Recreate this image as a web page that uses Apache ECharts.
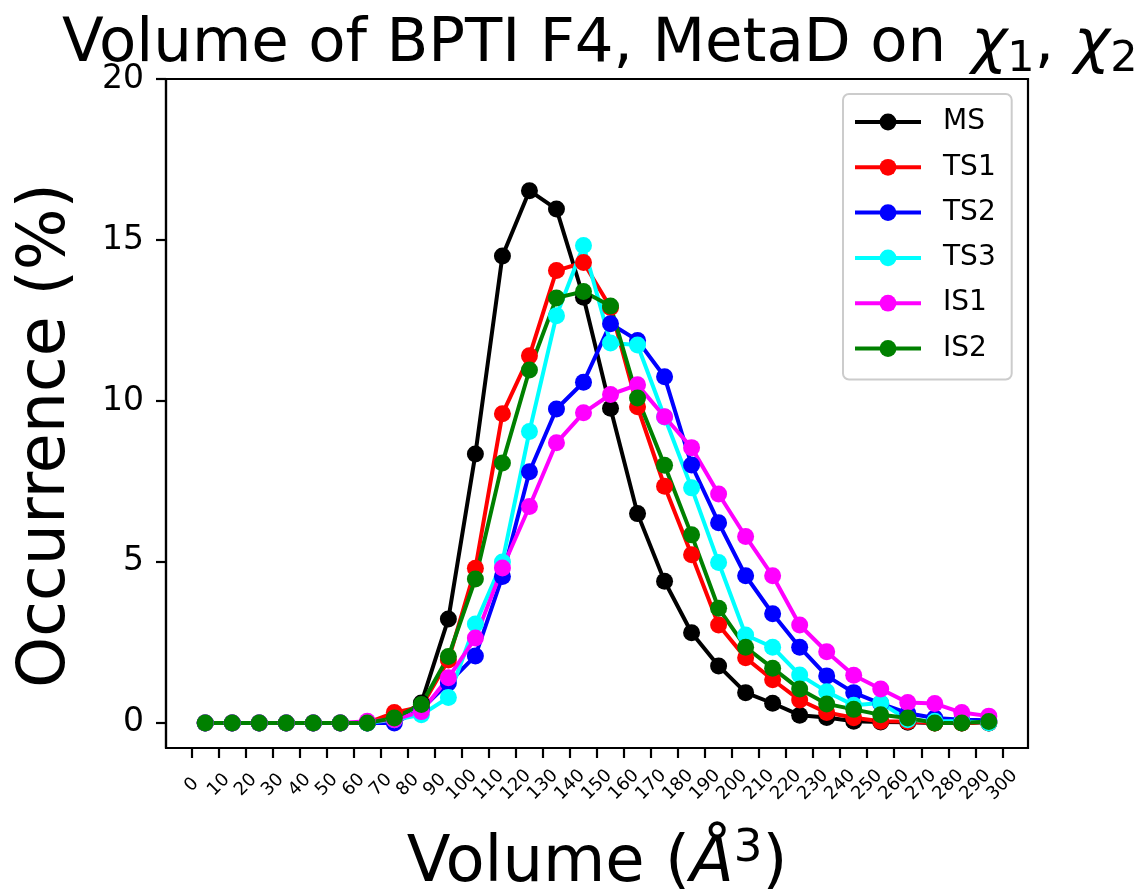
<!DOCTYPE html>
<html><head><meta charset="utf-8">
<script src="https://cdn.jsdelivr.net/npm/echarts@6/dist/echarts.min.js"></script>
<style>html,body{margin:0;padding:0;background:#fff}#c{width:1142px;height:890px}</style>
</head><body><div id="c"></div>
<script>
// Bin centres (Å^3)
const bins = [5,15,25,35,45,55,65,75,85,95,105,115,125,135,145,155,165,175,185,195,205,215,225,235,245,255,265,275,285,295];
const xTicks = [0,10,20,30,40,50,60,70,80,90,100,110,120,130,140,150,160,170,180,190,200,210,220,230,240,250,260,270,280,290,300];
const yTicks = [0,5,10,15,20];
const MS  = [0,0,0,0,0,0,0,0.1,0.62,3.23,8.35,14.5,16.53,15.96,13.22,9.77,6.5,4.4,2.8,1.77,0.94,0.61,0.24,0.17,0.05,0.03,0.02,0,0,0];
const TS1 = [0,0,0,0,0,0,0,0.32,0.5,1.95,4.8,9.6,11.4,14.05,14.3,12.9,9.82,7.35,5.22,3.04,2.02,1.34,0.71,0.32,0.16,0.05,0.04,0,0,0];
const TS2 = [0,0,0,0,0,0,0,0,0.42,1.24,2.08,4.55,7.8,9.75,10.58,12.4,11.88,10.75,8.01,6.22,4.57,3.39,2.35,1.46,0.94,0.6,0.3,0.15,0.1,0.08];
const TS3 = [0,0,0,0,0,0,0,0.1,0.25,0.79,3.07,5.0,9.05,12.65,14.83,11.8,11.74,9.5,7.3,4.98,2.73,2.35,1.49,0.97,0.55,0.62,0.1,0.05,0.05,0];
const IS1 = [0,0,0,0,0,0,0.05,0.1,0.35,1.4,2.64,4.81,6.72,8.7,9.63,10.2,10.5,9.51,8.55,7.11,5.79,4.57,3.04,2.21,1.48,1.05,0.63,0.6,0.32,0.21];
const IS2 = [0,0,0,0,0,0,0,0.15,0.57,2.06,4.47,8.07,10.96,13.2,13.4,12.95,10.09,8.0,5.84,3.56,2.35,1.7,1.05,0.59,0.42,0.25,0.15,0,0,0.04];

const seriesDefs = [
  ['MS', MS, '#000000'],
  ['TS1', TS1, '#ff0000'],
  ['TS2', TS2, '#0000ff'],
  ['TS3', TS3, '#00ffff'],
  ['IS1', IS1, '#ff00ff'],
  ['IS2', IS2, '#008000']
];
const FONT = 'DejaVu Sans';

const chart = echarts.init(document.getElementById('c'), null, {renderer: 'canvas'});
chart.setOption({
  animation: false,
  backgroundColor: '#ffffff',
  textStyle: {fontFamily: FONT},
  title: {
    text: '{a|Volume of BPTI F4, MetaD on}{i|χ}{s|1}{c|,}{j|χ}{s|2}',
    left: 57, top: 4,
    textStyle: {
      fontWeight: 'normal',
      rich: {
        a: {fontSize: 61, fontFamily: FONT, fontWeight: 'normal', color: '#000', lineHeight: 72},
        i: {fontSize: 61, fontFamily: FONT, fontWeight: 'normal', fontStyle: 'italic', color: '#000', lineHeight: 72, padding: [0, 0, 0, 25]},
        j: {fontSize: 61, fontFamily: FONT, fontWeight: 'normal', fontStyle: 'italic', color: '#000', lineHeight: 72},
        c: {fontSize: 61, fontFamily: FONT, fontWeight: 'normal', color: '#000', lineHeight: 72, padding: [0, 20, 0, 0]},
        s: {fontSize: 43, fontFamily: FONT, fontWeight: 'normal', color: '#000', lineHeight: 40, verticalAlign: 'bottom'}
      }
    }
  },
  grid: {left: 166, top: 79, width: 862, height: 669, show: true, borderColor: '#000', borderWidth: 2.2, containLabel: false, outerBoundsMode: 'none'},
  legend: {
    orient: 'vertical', left: 843, top: 94,
    padding: [14, 16, 17, 10],
    itemWidth: 66, itemHeight: 21, itemGap: 17.3,
    backgroundColor: '#ffffff', borderColor: '#cccccc', borderWidth: 2, borderRadius: 6,
    lineStyle: {width: 4},
    textStyle: {fontSize: 28, fontFamily: FONT, color: '#000', lineHeight: 21, padding: [0, 0, 0, 17]},
    data: seriesDefs.map(d => d[0])
  },
  xAxis: {
    type: 'value', min: -9.5, max: 309.5,
    name: '{a|Volume (}{i|Å}{p|3}{a|)}',
    nameLocation: 'middle', nameGap: 79,
    nameTextStyle: {
      rich: {
        a: {fontSize: 64, fontFamily: FONT, color: '#000', lineHeight: 74},
        i: {fontSize: 64, fontFamily: FONT, fontStyle: 'italic', color: '#000', lineHeight: 74},
        p: {fontSize: 45, fontFamily: FONT, color: '#000', lineHeight: 45, verticalAlign: 'top'}
      }
    },
    axisLine: {show: true, onZero: false, lineStyle: {color: '#000', width: 2.2}},
    axisTick: {show: true, customValues: xTicks, length: 10, lineStyle: {color: '#000', width: 2.2}},
    axisLabel: {customValues: xTicks, rotate: 45, fontSize: 18, color: '#000', fontFamily: FONT, margin: 37, align: 'center', verticalAlign: 'middle'},
    splitLine: {show: false}
  },
  yAxis: {
    type: 'value', min: -0.78, max: 20,
    name: 'Occurrence (%)',
    nameLocation: 'middle', nameGap: 86, nameRotate: 90,
    nameTextStyle: {fontSize: 65, fontFamily: FONT, color: '#000', padding: [0, 44, 0, 0]},
    axisLine: {show: true, onZero: false, lineStyle: {color: '#000', width: 2.2}},
    axisTick: {show: true, customValues: yTicks, length: 10, lineStyle: {color: '#000', width: 2.2}},
    axisLabel: {customValues: yTicks, fontSize: 33, color: '#000', fontFamily: FONT, margin: 22},
    splitLine: {show: false}
  },
  series: seriesDefs.map(([name, vals, color]) => ({
    name, type: 'line',
    data: bins.map((b, i) => [b, vals[i]]),
    symbol: 'circle', symbolSize: 17, showAllSymbol: true,
    itemStyle: {color: color},
    lineStyle: {color: color, width: 4},
    emphasis: {disabled: true},
    clip: false
  }))
});
</script>
</body></html>
